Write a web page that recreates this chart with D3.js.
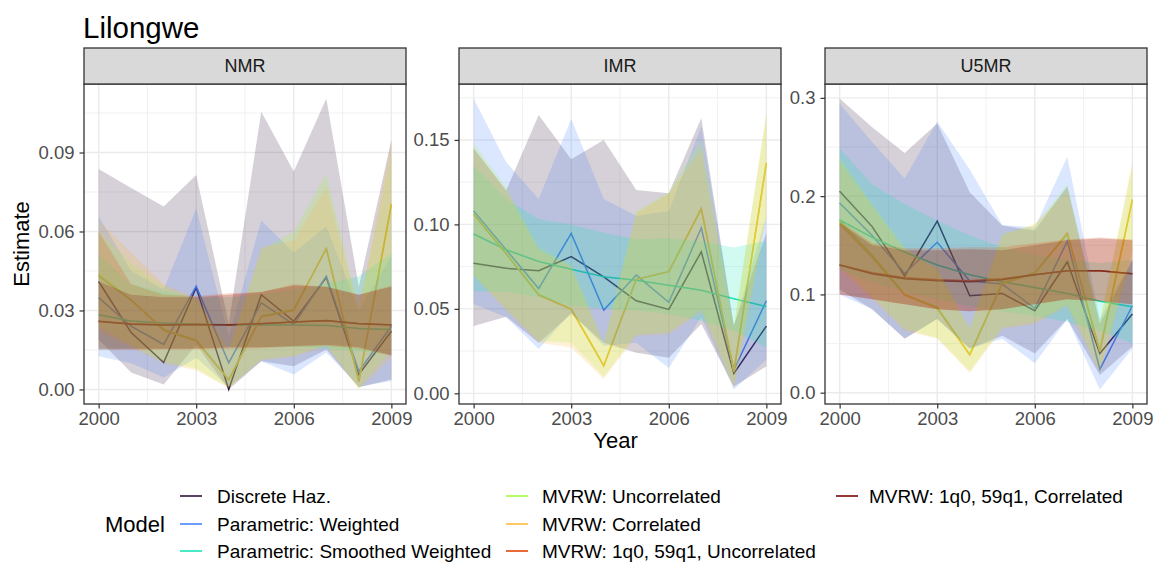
<!DOCTYPE html>
<html>
<head>
<meta charset="utf-8">
<script src="https://cdn.jsdelivr.net/npm/d3@7"></script>
<style>
  body { margin: 0; background: #fff; }
  text { font-family: "Liberation Sans", Arial, sans-serif; }
</style>
</head>
<body>
<script>
// --- data ---
const years = [2000, 2001, 2002, 2003, 2004, 2005, 2006, 2007, 2008, 2009];
const panelNames = ["NMR", "IMR", "U5MR"];
const models = [
  "Discrete Haz.", "Parametric: Weighted", "Parametric: Smoothed Weighted",
  "MVRW: Uncorrelated", "MVRW: Correlated",
  "MVRW: 1q0, 59q1, Uncorrelated", "MVRW: 1q0, 59q1, Correlated"
];
const colors = ["#30123B", "#4686FB", "#1AE4B6", "#A2FC3C", "#FABA39", "#E4460A", "#7A0403"];

// rows follow the model order above, columns follow years
const nmrEst = [
  [0.0410, 0.0216, 0.0102, 0.0387, 0.0000, 0.0360, 0.0259, 0.0425, 0.0057, 0.0221],
  [0.0349, 0.0240, 0.0171, 0.0392, 0.0101, 0.0329, 0.0247, 0.0430, 0.0069, 0.0240],
  [0.0284, 0.0260, 0.0252, 0.0248, 0.0246, 0.0245, 0.0245, 0.0243, 0.0232, 0.0228],
  [0.0435, 0.0340, 0.0228, 0.0187, 0.0038, 0.0278, 0.0303, 0.0535, 0.0031, 0.0700],
  [0.0430, 0.0339, 0.0225, 0.0185, 0.0035, 0.0276, 0.0301, 0.0535, 0.0029, 0.0705],
  [0.0258, 0.0250, 0.0246, 0.0247, 0.0246, 0.0251, 0.0256, 0.0261, 0.0251, 0.0246],
  [0.0259, 0.0248, 0.0245, 0.0247, 0.0245, 0.0250, 0.0256, 0.0262, 0.0250, 0.0245]
];
const nmrLo = [
  [0.0190, 0.0064, 0.0019, 0.0170, 0.0000, 0.0107, 0.0088, 0.0152, 0.0008, 0.0038],
  [0.0126, 0.0100, 0.0045, 0.0120, 0.0010, 0.0107, 0.0057, 0.0140, 0.0010, 0.0032],
  [0.0152, 0.0155, 0.0155, 0.0158, 0.0160, 0.0160, 0.0160, 0.0155, 0.0145, 0.0133],
  [0.0240, 0.0170, 0.0105, 0.0080, 0.0008, 0.0115, 0.0128, 0.0170, 0.0004, 0.0150],
  [0.0220, 0.0160, 0.0099, 0.0073, 0.0005, 0.0110, 0.0124, 0.0162, 0.0002, 0.0120],
  [0.0150, 0.0150, 0.0152, 0.0153, 0.0155, 0.0157, 0.0162, 0.0165, 0.0155, 0.0128],
  [0.0155, 0.0155, 0.0155, 0.0155, 0.0160, 0.0160, 0.0165, 0.0170, 0.0160, 0.0130]
];
const nmrHi = [
  [0.0837, 0.0765, 0.0695, 0.0815, 0.0250, 0.1055, 0.0828, 0.1105, 0.0390, 0.0948],
  [0.0657, 0.0450, 0.0380, 0.0687, 0.0200, 0.0642, 0.0520, 0.0620, 0.0300, 0.0506],
  [0.0512, 0.0400, 0.0370, 0.0350, 0.0350, 0.0360, 0.0380, 0.0400, 0.0430, 0.0518],
  [0.0600, 0.0480, 0.0390, 0.0340, 0.0150, 0.0530, 0.0600, 0.0820, 0.0300, 0.0900],
  [0.0642, 0.0520, 0.0400, 0.0350, 0.0150, 0.0540, 0.0566, 0.0769, 0.0300, 0.0946],
  [0.0600, 0.0400, 0.0360, 0.0355, 0.0365, 0.0370, 0.0400, 0.0390, 0.0360, 0.0395],
  [0.0410, 0.0360, 0.0350, 0.0350, 0.0360, 0.0370, 0.0395, 0.0390, 0.0360, 0.0390]
];

const imrEst = [
  [0.0770, 0.0740, 0.0726, 0.0809, 0.0690, 0.0548, 0.0497, 0.0838, 0.0118, 0.0398],
  [0.1080, 0.0850, 0.0620, 0.0947, 0.0493, 0.0700, 0.0539, 0.0980, 0.0138, 0.0548],
  [0.0943, 0.0850, 0.0780, 0.0735, 0.0690, 0.0670, 0.0640, 0.0610, 0.0560, 0.0513],
  [0.1065, 0.0830, 0.0585, 0.0500, 0.0165, 0.0675, 0.0720, 0.1090, 0.0130, 0.1360],
  [0.1060, 0.0825, 0.0582, 0.0497, 0.0162, 0.0675, 0.0720, 0.1095, 0.0128, 0.1365],
  null,
  null
];
const imrLo = [
  [0.0398, 0.0454, 0.0300, 0.0470, 0.0300, 0.0240, 0.0210, 0.0410, 0.0040, 0.0160],
  [0.0529, 0.0450, 0.0262, 0.0480, 0.0280, 0.0300, 0.0150, 0.0450, 0.0023, 0.0200],
  [0.0604, 0.0600, 0.0570, 0.0520, 0.0500, 0.0490, 0.0470, 0.0430, 0.0370, 0.0272],
  [0.0700, 0.0500, 0.0312, 0.0300, 0.0100, 0.0350, 0.0360, 0.0500, 0.0040, 0.1050],
  [0.0696, 0.0490, 0.0300, 0.0272, 0.0085, 0.0340, 0.0350, 0.0480, 0.0030, 0.1045],
  null,
  null
];
const imrHi = [
  [0.1450, 0.1200, 0.1648, 0.1385, 0.1500, 0.1203, 0.1184, 0.1630, 0.0400, 0.0950],
  [0.1745, 0.1368, 0.1150, 0.1624, 0.1150, 0.1050, 0.1080, 0.1580, 0.0400, 0.1050],
  [0.1350, 0.1150, 0.1030, 0.1000, 0.0950, 0.0910, 0.0920, 0.0900, 0.0864, 0.0903],
  [0.1480, 0.1220, 0.0864, 0.0760, 0.0300, 0.1080, 0.1190, 0.1500, 0.0400, 0.1650],
  [0.1450, 0.1200, 0.0850, 0.0750, 0.0290, 0.1066, 0.1180, 0.1440, 0.0380, 0.1660],
  null,
  null
];

const u5mrEst = [
  [0.2050, 0.1690, 0.1187, 0.1746, 0.0987, 0.1010, 0.0834, 0.1332, 0.0400, 0.0800],
  [0.1930, 0.1600, 0.1214, 0.1530, 0.1136, 0.1105, 0.0858, 0.1543, 0.0238, 0.0885],
  [0.1757, 0.1580, 0.1430, 0.1300, 0.1200, 0.1130, 0.1070, 0.1010, 0.0930, 0.0875],
  [0.1750, 0.1400, 0.1000, 0.0870, 0.0390, 0.1120, 0.1220, 0.1610, 0.0430, 0.1950],
  [0.1720, 0.1380, 0.0994, 0.0858, 0.0384, 0.1110, 0.1214, 0.1627, 0.0417, 0.1967],
  [0.1300, 0.1220, 0.1170, 0.1150, 0.1140, 0.1160, 0.1200, 0.1240, 0.1240, 0.1210],
  [0.1299, 0.1210, 0.1160, 0.1140, 0.1130, 0.1150, 0.1200, 0.1240, 0.1240, 0.1210]
];
const u5mrLo = [
  [0.1050, 0.0850, 0.0550, 0.0750, 0.0450, 0.0580, 0.0400, 0.0750, 0.0180, 0.0470],
  [0.1000, 0.0850, 0.0553, 0.0750, 0.0450, 0.0550, 0.0300, 0.0750, 0.0033, 0.0450],
  [0.1250, 0.1120, 0.1030, 0.0950, 0.0880, 0.0830, 0.0780, 0.0720, 0.0630, 0.0500],
  [0.1300, 0.0980, 0.0650, 0.0560, 0.0220, 0.0660, 0.0720, 0.0900, 0.0220, 0.1450],
  [0.1250, 0.0950, 0.0630, 0.0550, 0.0200, 0.0650, 0.0700, 0.0880, 0.0200, 0.1400],
  [0.1000, 0.0950, 0.0900, 0.0850, 0.0830, 0.0850, 0.0900, 0.0950, 0.0930, 0.0900],
  [0.1000, 0.0950, 0.0900, 0.0850, 0.0830, 0.0850, 0.0900, 0.0950, 0.0930, 0.0900]
];
const u5mrHi = [
  [0.2993, 0.2700, 0.2440, 0.2740, 0.2040, 0.1700, 0.1650, 0.2100, 0.0700, 0.1350],
  [0.2940, 0.2550, 0.2180, 0.2760, 0.2270, 0.1706, 0.1680, 0.2400, 0.0750, 0.1350],
  [0.2486, 0.2120, 0.1920, 0.1750, 0.1600, 0.1480, 0.1400, 0.1350, 0.1320, 0.1350],
  [0.2400, 0.1920, 0.1480, 0.1260, 0.0660, 0.1620, 0.1700, 0.2120, 0.0720, 0.2300],
  [0.2350, 0.1900, 0.1450, 0.1250, 0.0650, 0.1600, 0.1720, 0.2050, 0.0700, 0.2350],
  [0.1750, 0.1520, 0.1470, 0.1470, 0.1480, 0.1480, 0.1520, 0.1560, 0.1580, 0.1560],
  [0.1730, 0.1500, 0.1450, 0.1450, 0.1460, 0.1450, 0.1500, 0.1550, 0.1570, 0.1550]
];

const xTicks = [2000, 2003, 2006, 2009];
const nmrTicks = [0, 0.03, 0.06, 0.09];
const imrTicks = [0, 0.05, 0.10, 0.15];
const u5mrTicks = [0, 0.1, 0.2, 0.3];
const nmrTickLabels = ["0.00", "0.03", "0.06", "0.09"];
const imrTickLabels = ["0.00", "0.05", "0.10", "0.15"];
const u5mrTickLabels = ["0.0", "0.1", "0.2", "0.3"];

const panels = [
  { name: panelNames[0], est: nmrEst, lo: nmrLo, hi: nmrHi, ticks: nmrTicks, labels: nmrTickLabels },
  { name: panelNames[1], est: imrEst, lo: imrLo, hi: imrHi, ticks: imrTicks, labels: imrTickLabels },
  { name: panelNames[2], est: u5mrEst, lo: u5mrLo, hi: u5mrHi, ticks: u5mrTicks, labels: u5mrTickLabels }
];

// --- layout ---
const W = 1154, H = 562;
const panelLeft = [84, 459, 825];
const panelW = 322;
const panelTop = 84, panelH = 320, stripH = 36;

const svg = d3.select("body").append("svg")
    .attr("width", W)
    .attr("height", H);

svg.append("text")
    .attr("x", 83).attr("y", 38)
    .attr("font-size", 29.5).attr("fill", "#000")
    .text("Lilongwe");

const [y0, y1] = d3.extent(years);
const xpad = (y1 - y0) * 0.05;

panels.forEach((p, k) => {
  const left = panelLeft[k];
  const x = d3.scaleLinear().domain([y0 - xpad, y1 + xpad]).range([left, left + panelW]);

  const vals = [].concat(...p.lo.filter(r => r), ...p.hi.filter(r => r));
  const [mn, mx] = d3.extent(vals);
  const pad = (mx - mn) * 0.05;
  const y = d3.scaleLinear().domain([mn - pad, mx + pad]).range([panelTop + panelH, panelTop]);

  const g = svg.append("g");

  // grid
  const step = p.ticks[1] - p.ticks[0];
  const yMinor = p.ticks.map(t => t + step / 2).filter(t => t < y.domain()[1]);
  const xMinor = xTicks.slice(0, -1).map((t, i) => (t + xTicks[i + 1]) / 2);

  g.selectAll(".ymin").data(yMinor).join("line")
      .attr("x1", left).attr("x2", left + panelW)
      .attr("y1", d => y(d)).attr("y2", d => y(d))
      .attr("stroke", "#ebebeb").attr("stroke-width", 0.7);
  g.selectAll(".xmin").data(xMinor).join("line")
      .attr("y1", panelTop).attr("y2", panelTop + panelH)
      .attr("x1", d => x(d)).attr("x2", d => x(d))
      .attr("stroke", "#ebebeb").attr("stroke-width", 0.7);
  g.selectAll(".ymaj").data(p.ticks).join("line")
      .attr("x1", left).attr("x2", left + panelW)
      .attr("y1", d => y(d)).attr("y2", d => y(d))
      .attr("stroke", "#ebebeb").attr("stroke-width", 1.4);
  g.selectAll(".xmaj").data(xTicks).join("line")
      .attr("y1", panelTop).attr("y2", panelTop + panelH)
      .attr("x1", d => x(d)).attr("x2", d => x(d))
      .attr("stroke", "#ebebeb").attr("stroke-width", 1.4);

  // lines first, then the translucent ribbons over them
  const line = d3.line().x((d, i) => x(years[i])).y(d => y(d));
  p.est.forEach((row, m) => {
    if (!row) return;
    g.append("path")
        .attr("d", line(row))
        .attr("fill", "none")
        .attr("stroke", colors[m])
        .attr("stroke-width", 1.5);
  });

  const area = d3.area().x(d => x(d.year)).y0(d => y(d.lo)).y1(d => y(d.hi));
  p.lo.forEach((row, m) => {
    if (!row) return;
    const pts = years.map((yr, i) => ({ year: yr, lo: row[i], hi: p.hi[m][i] }));
    g.append("path")
        .attr("d", area(pts))
        .attr("fill", colors[m])
        .attr("fill-opacity", 0.2);
  });

  // border
  g.append("rect")
      .attr("x", left).attr("y", panelTop)
      .attr("width", panelW).attr("height", panelH)
      .attr("fill", "none").attr("stroke", "#333").attr("stroke-width", 1.3);

  // strip
  g.append("rect")
      .attr("x", left).attr("y", panelTop - stripH)
      .attr("width", panelW).attr("height", stripH)
      .attr("fill", "#d9d9d9").attr("stroke", "#333").attr("stroke-width", 1.3);
  g.append("text")
      .attr("x", left + panelW / 2).attr("y", panelTop - stripH / 2)
      .attr("dy", "0.36em")
      .attr("text-anchor", "middle")
      .attr("font-size", 18).attr("fill", "#1a1a1a")
      .text(p.name);

  // axes
  const ax = g.append("g")
      .attr("transform", `translate(0,${panelTop + panelH})`)
      .call(d3.axisBottom(x).tickValues(xTicks).tickFormat(d3.format("d")).tickSize(4.5).tickPadding(3));
  const ay = g.append("g")
      .attr("transform", `translate(${left},0)`)
      .call(d3.axisLeft(y).tickValues(p.ticks).tickFormat((d, i) => p.labels[i]).tickSize(4.5).tickPadding(5));
  [ax, ay].forEach(a => {
    a.select(".domain").remove();
    a.selectAll(".tick line").attr("stroke", "#333").attr("stroke-width", 1.2);
    a.selectAll(".tick text")
        .attr("font-size", 18.5).attr("fill", "#4d4d4d")
        .attr("font-family", "'Liberation Sans', Arial, sans-serif");
  });
});

// axis titles
svg.append("text")
    .attr("x", (panelLeft[0] + panelLeft[2] + panelW) / 2).attr("y", 448)
    .attr("text-anchor", "middle").attr("font-size", 22)
    .text("Year");
svg.append("text")
    .attr("transform", `translate(29,${panelTop + panelH / 2}) rotate(-90)`)
    .attr("text-anchor", "middle").attr("font-size", 22)
    .text("Estimate");

// legend
const legend = svg.append("g");
legend.append("text")
    .attr("x", 105).attr("y", 524).attr("dy", "0.36em")
    .attr("font-size", 22).text("Model");

const colKeyX = [180, 506, 836];
const colTextX = [217, 542, 869];
const rowY = [496, 524, 551];
models.forEach((name, i) => {
  const c = Math.floor(i / 3), r = i % 3;
  legend.append("line")
      .attr("x1", colKeyX[c]).attr("x2", colKeyX[c] + 22)
      .attr("y1", rowY[r]).attr("y2", rowY[r])
      .attr("stroke", colors[i]).attr("stroke-width", 1.6);
  legend.append("text")
      .attr("x", colTextX[c]).attr("y", rowY[r]).attr("dy", "0.36em")
      .attr("font-size", 19).attr("fill", "#000")
      .text(name);
});
</script>
</body>
</html>
